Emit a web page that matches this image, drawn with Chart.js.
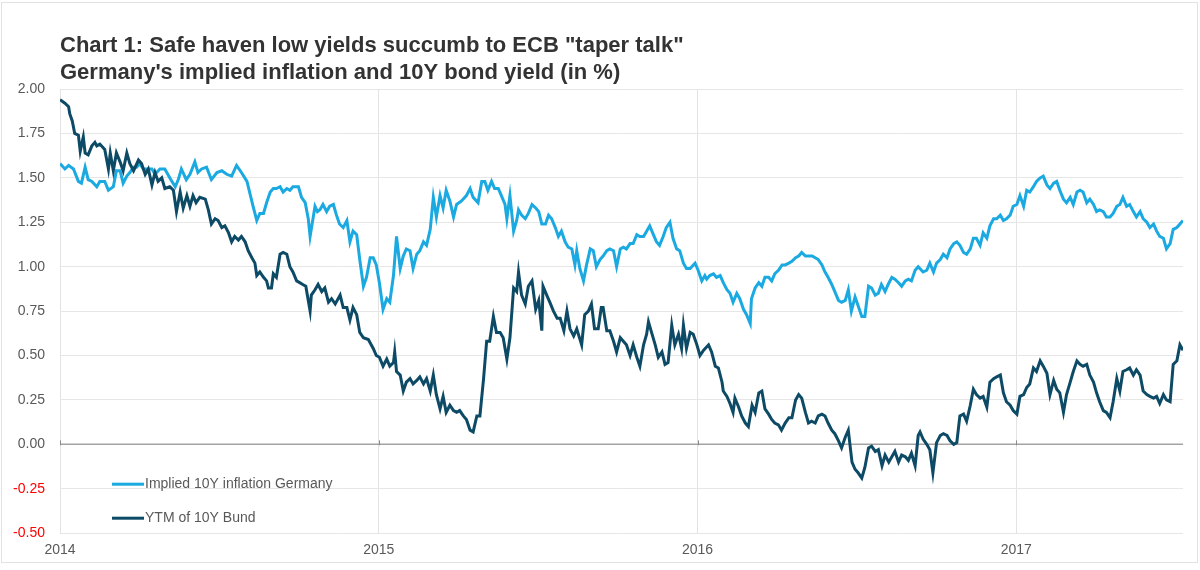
<!DOCTYPE html>
<html>
<head>
<meta charset="utf-8">
<script src="https://cdn.jsdelivr.net/npm/chart.js@4/dist/chart.umd.min.js"></script>
<style>
  html, body { margin: 0; padding: 0; background: #fff; }
  #frame { position: absolute; left: 1px; top: 2px; width: 1195px; height: 559px; border: 1px solid #e2e2e2; }
  #wrap { position: absolute; left: 0; top: 0; width: 1200px; height: 570px; }
</style>
</head>
<body>
<div id="frame"></div>
<div id="wrap"><canvas id="yieldChart"></canvas></div>
<script>
// Weeks since start of 2014, value in %
const inflation = [
  [0,1.58],[0.8,1.55],[1.4,1.57],[2.2,1.55],[3.0,1.48],[3.5,1.47],[4.1,1.56],[4.6,1.49],[5.2,1.48],[6.0,1.45],
  [6.5,1.48],[7.3,1.48],[7.9,1.43],[8.7,1.45],[9.2,1.54],[9.8,1.54],[10.3,1.47],[10.9,1.51],[11.4,1.53],[12.0,1.56],
  [12.5,1.56],[13.0,1.58],[13.6,1.55],[14.2,1.55],[15.0,1.55],[15.5,1.52],[16.3,1.55],[17.1,1.55],[17.9,1.50],[18.8,1.45],
  [19.3,1.49],[19.8,1.55],[20.6,1.49],[21.2,1.52],[22.0,1.59],[22.5,1.53],[23.1,1.55],[23.9,1.56],[24.7,1.49],[25.6,1.53],
  [26.4,1.54],[27.2,1.52],[28.0,1.51],[28.8,1.57],[29.6,1.53],[30.5,1.48],[31.0,1.41],[31.5,1.34],[32.1,1.26],[32.6,1.30],
  [33.2,1.30],[33.7,1.36],[34.3,1.42],[34.8,1.44],[35.3,1.44],[35.9,1.45],[36.4,1.42],[37.0,1.44],[37.5,1.43],[38.0,1.45],
  [38.9,1.45],[39.4,1.39],[40.0,1.36],[40.5,1.27],[40.8,1.17],[41.6,1.34],[42.0,1.31],[42.4,1.32],[42.9,1.35],[43.5,1.31],
  [44.0,1.34],[44.6,1.35],[45.1,1.29],[45.6,1.24],[46.2,1.22],[46.8,1.26],[47.3,1.14],[47.8,1.20],[48.4,1.18],[48.9,1.04],
  [49.5,0.89],[50.0,0.94],[50.6,1.05],[51.1,1.05],[51.6,1.01],[52.1,0.91],[52.7,0.76],[53.3,0.82],[53.8,0.80],[54.4,0.95],
  [54.9,1.17],[55.5,0.99],[56.0,1.06],[56.5,1.10],[57.1,1.09],[57.6,0.99],[58.2,1.07],[58.7,1.09],[59.3,1.14],[59.8,1.12],
  [60.4,1.21],[60.9,1.39],[61.4,1.28],[62.0,1.40],[62.5,1.33],[63.0,1.43],[63.6,1.37],[64.2,1.28],[64.7,1.35],[65.5,1.37],
  [66.3,1.40],[66.9,1.44],[67.4,1.39],[68.2,1.36],[68.8,1.48],[69.3,1.48],[69.8,1.43],[70.4,1.48],[70.9,1.44],[71.5,1.44],
  [72.0,1.40],[72.6,1.35],[72.9,1.27],[73.4,1.40],[74.0,1.20],[74.5,1.26],[74.8,1.32],[75.3,1.29],[75.9,1.27],[76.4,1.30],
  [77.0,1.35],[77.6,1.33],[78.1,1.31],[78.6,1.24],[79.2,1.24],[79.7,1.29],[80.2,1.27],[80.8,1.22],[81.3,1.17],[81.8,1.20],
  [82.4,1.14],[82.9,1.11],[83.5,1.10],[84.0,1.01],[84.3,1.09],[84.8,0.99],[85.4,0.92],[85.9,1.01],[86.5,1.10],[87.0,1.09],
  [87.5,1.00],[88.1,1.04],[88.6,1.06],[89.2,1.09],[89.7,1.10],[90.3,1.09],[90.8,1.00],[91.4,1.10],[91.9,1.11],[92.4,1.10],
  [93.0,1.13],[93.5,1.13],[94.1,1.18],[94.6,1.17],[95.2,1.17],[95.7,1.20],[96.2,1.23],[96.8,1.18],[97.3,1.14],[97.8,1.12],
  [98.4,1.17],[98.9,1.22],[99.5,1.25],[100.0,1.16],[100.6,1.10],[101.1,1.09],[101.7,1.02],[102.2,0.99],[102.8,0.99],[103.6,1.02],
  [104.1,0.98],[104.7,0.92],[105.2,0.95],[105.5,0.93],[106.0,0.95],[106.6,0.96],[107.1,0.94],[107.7,0.95],[108.2,0.91],[108.8,0.87],
  [109.3,0.85],[109.8,0.80],[110.4,0.85],[110.9,0.82],[111.5,0.76],[112.0,0.73],[112.6,0.68],[112.8,0.82],[113.4,0.88],[114.0,0.91],
  [114.5,0.89],[115.0,0.94],[115.6,0.94],[116.1,0.92],[116.6,0.96],[117.2,0.98],[117.8,1.01],[118.3,1.01],[118.9,1.02],[119.4,1.03],
  [120.0,1.05],[120.5,1.06],[121.0,1.08],[121.6,1.06],[122.1,1.06],[122.7,1.06],[123.2,1.05],[123.7,1.04],[124.3,1.01],[124.8,0.97],
  [125.3,0.94],[125.9,0.90],[126.4,0.86],[127.0,0.81],[127.5,0.80],[128.1,0.81],[128.6,0.87],[129.1,0.75],[129.7,0.83],[130.2,0.78],
  [130.8,0.72],[131.3,0.72],[131.9,0.89],[132.4,0.88],[133.0,0.84],[133.5,0.85],[134.0,0.90],[134.6,0.86],[135.1,0.90],[135.7,0.94],
  [136.2,0.93],[136.8,0.91],[137.3,0.89],[137.9,0.92],[138.4,0.93],[138.9,0.92],[139.5,0.98],[140.0,1.00],[140.8,0.97],[141.4,0.98],
  [141.9,1.02],[142.5,0.97],[143.0,1.02],[143.6,1.04],[144.1,1.07],[144.7,1.05],[145.2,1.10],[145.8,1.13],[146.3,1.14],[146.8,1.12],
  [147.4,1.08],[147.9,1.07],[148.5,1.10],[149.0,1.16],[149.5,1.16],[150.1,1.12],[150.6,1.19],[151.2,1.16],[151.7,1.23],[152.3,1.27],
  [152.8,1.27],[153.4,1.29],[153.9,1.26],[154.4,1.27],[155.0,1.29],[155.5,1.34],[156.1,1.35],[156.6,1.40],[157.2,1.34],[157.7,1.43],
  [158.2,1.42],[158.8,1.45],[159.3,1.48],[159.9,1.50],[160.4,1.51],[161.0,1.46],[161.5,1.44],[162.1,1.47],[162.6,1.48],[163.1,1.43],
  [163.7,1.38],[164.2,1.36],[164.8,1.39],[165.3,1.35],[165.9,1.42],[166.4,1.43],[166.9,1.42],[167.5,1.36],[168.0,1.38],[168.6,1.35],
  [169.1,1.31],[169.6,1.32],[170.2,1.31],[170.7,1.28],[171.3,1.28],[171.8,1.30],[172.4,1.34],[172.9,1.35],[173.4,1.39],[174.0,1.34],
  [174.5,1.35],[175.1,1.31],[175.6,1.28],[176.2,1.31],[176.7,1.27],[177.3,1.25],[177.8,1.22],[178.4,1.24],[178.9,1.20],[179.4,1.17],
  [180.0,1.16],[180.5,1.10],[181.1,1.13],[181.6,1.21],[182.2,1.22],[182.7,1.24],[183.2,1.26]
];

const bund = [
  [0,1.94],[0.8,1.92],[1.4,1.90],[1.6,1.86],[2.0,1.82],[2.4,1.75],[3.0,1.74],[3.3,1.65],[3.8,1.73],[4.1,1.64],
  [4.6,1.63],[5.2,1.68],[5.7,1.70],[6.0,1.68],[6.5,1.69],[7.3,1.66],[7.9,1.55],[8.2,1.64],[8.7,1.54],[9.2,1.64],
  [9.8,1.59],[10.3,1.54],[10.9,1.64],[11.4,1.58],[12.0,1.54],[12.8,1.60],[13.3,1.58],[13.9,1.52],[14.4,1.55],[15.0,1.46],
  [15.5,1.53],[16.0,1.48],[16.6,1.50],[17.1,1.44],[17.9,1.45],[18.5,1.43],[19.0,1.31],[19.6,1.42],[20.1,1.33],[20.7,1.40],
  [21.2,1.34],[21.7,1.40],[22.2,1.36],[22.8,1.39],[23.7,1.38],[24.2,1.32],[24.7,1.24],[25.3,1.27],[25.8,1.26],[26.4,1.22],
  [26.9,1.23],[27.5,1.19],[28.0,1.14],[28.5,1.17],[29.1,1.15],[29.6,1.17],[30.2,1.14],[30.7,1.09],[31.3,1.05],[31.8,1.02],
  [32.1,0.95],[32.6,0.97],[33.2,0.94],[33.7,0.92],[34.0,0.88],[34.5,0.88],[34.8,0.96],[35.3,0.94],[35.9,1.07],[36.4,1.08],
  [37.0,1.07],[37.5,1.00],[38.0,0.97],[38.6,0.92],[39.1,0.91],[39.6,0.90],[40.1,0.89],[40.8,0.75],[41.0,0.84],[41.6,0.87],
  [42.1,0.90],[42.7,0.86],[43.2,0.88],[43.8,0.80],[44.3,0.82],[44.9,0.79],[45.7,0.84],[46.2,0.77],[46.8,0.77],[47.3,0.70],
  [47.8,0.77],[48.4,0.73],[48.9,0.63],[49.5,0.60],[50.3,0.59],[51.1,0.54],[51.6,0.50],[52.1,0.49],[52.7,0.44],[53.3,0.48],
  [53.8,0.44],[54.4,0.46],[54.6,0.52],[54.9,0.41],[55.5,0.39],[56.0,0.30],[56.5,0.35],[57.1,0.37],[57.6,0.34],[58.2,0.36],
  [58.7,0.38],[59.3,0.34],[59.8,0.37],[60.4,0.30],[60.9,0.39],[61.4,0.28],[62.0,0.20],[62.5,0.27],[63.0,0.18],[63.6,0.22],
  [64.2,0.19],[64.7,0.18],[65.2,0.19],[65.8,0.16],[66.3,0.14],[66.9,0.08],[67.4,0.07],[68.0,0.16],[68.5,0.16],[69.1,0.37],
  [69.6,0.58],[70.1,0.58],[70.7,0.72],[71.2,0.63],[71.8,0.63],[72.3,0.60],[72.9,0.48],[73.4,0.60],[74.0,0.88],[74.5,0.86],
  [74.8,0.97],[75.3,0.84],[75.9,0.79],[76.4,0.89],[77.0,0.92],[77.6,0.76],[78.1,0.81],[78.6,0.64],[78.8,0.89],[79.4,0.84],
  [79.9,0.80],[80.5,0.75],[81.1,0.71],[81.6,0.71],[82.2,0.64],[82.7,0.75],[83.2,0.65],[83.8,0.61],[84.3,0.65],[85.1,0.56],
  [85.6,0.73],[86.2,0.75],[86.7,0.79],[87.2,0.65],[87.8,0.65],[88.3,0.77],[88.6,0.77],[89.2,0.64],[89.7,0.64],[90.3,0.58],
  [90.8,0.52],[91.4,0.60],[91.9,0.58],[92.4,0.56],[93.0,0.50],[93.5,0.56],[94.1,0.49],[94.6,0.44],[95.2,0.56],[95.7,0.62],
  [96.0,0.69],[96.5,0.63],[97.1,0.56],[97.6,0.49],[98.2,0.52],[98.7,0.45],[99.2,0.46],[99.8,0.67],[100.3,0.56],[100.9,0.62],
  [101.4,0.54],[101.7,0.67],[102.2,0.54],[102.8,0.63],[103.3,0.62],[103.9,0.56],[104.4,0.50],[105.0,0.53],[105.8,0.56],[106.3,0.52],
  [106.9,0.44],[107.4,0.43],[108.0,0.35],[108.2,0.30],[108.8,0.27],[109.3,0.23],[109.8,0.18],[110.1,0.26],[110.7,0.21],[111.2,0.16],
  [111.8,0.12],[112.3,0.10],[112.9,0.22],[113.4,0.18],[114.0,0.29],[114.5,0.30],[115.0,0.20],[115.6,0.17],[116.1,0.14],[116.6,0.12],
  [117.2,0.11],[117.7,0.08],[118.3,0.12],[118.9,0.15],[119.4,0.15],[120.0,0.25],[120.5,0.28],[121.0,0.26],[121.6,0.18],[122.1,0.12],
  [122.6,0.13],[123.2,0.12],[123.7,0.16],[124.3,0.17],[124.8,0.16],[125.3,0.12],[125.9,0.08],[126.4,0.06],[127.0,0.02],[127.5,-0.02],
  [128.1,0.04],[128.6,0.08],[129.2,-0.10],[129.7,-0.14],[130.2,-0.16],[130.8,-0.19],[131.3,-0.13],[131.9,-0.02],[132.4,-0.01],[133.0,-0.04],
  [133.5,-0.03],[134.1,-0.12],[134.6,-0.06],[135.2,-0.10],[135.7,-0.07],[136.2,-0.04],[136.8,-0.10],[137.3,-0.06],[137.9,-0.07],[138.4,-0.09],
  [138.9,-0.05],[139.5,-0.12],[140.0,0.05],[140.3,0.07],[140.8,0.03],[141.4,0.00],[141.9,-0.03],[142.4,-0.16],[143.0,0.01],[143.6,0.05],
  [144.1,0.06],[144.7,0.05],[145.2,0.02],[145.8,0.00],[146.3,0.01],[146.8,0.16],[147.4,0.17],[147.9,0.13],[148.5,0.22],[149.0,0.31],
  [149.5,0.28],[150.1,0.26],[150.6,0.27],[151.2,0.21],[151.7,0.35],[152.3,0.37],[152.8,0.38],[153.4,0.39],[153.9,0.29],[154.4,0.24],
  [155.0,0.22],[155.5,0.19],[156.1,0.17],[156.6,0.27],[157.2,0.28],[157.7,0.32],[158.2,0.34],[158.8,0.43],[159.3,0.41],[159.9,0.47],
  [160.4,0.44],[161.0,0.40],[161.5,0.28],[162.1,0.36],[162.6,0.31],[163.1,0.29],[163.7,0.18],[164.2,0.28],[164.8,0.35],[165.3,0.41],
  [165.9,0.47],[166.4,0.45],[166.9,0.44],[167.5,0.45],[168.0,0.39],[168.6,0.35],[169.1,0.29],[169.6,0.24],[170.2,0.19],[170.7,0.18],
  [171.3,0.15],[171.8,0.24],[172.4,0.37],[172.9,0.30],[173.4,0.41],[174.0,0.42],[174.5,0.43],[175.1,0.39],[175.6,0.42],[176.2,0.39],
  [176.7,0.30],[177.3,0.28],[177.8,0.27],[178.4,0.26],[178.9,0.27],[179.4,0.23],[180.0,0.28],[180.5,0.25],[181.1,0.24],[181.6,0.45],
  [182.2,0.47],[182.7,0.56],[183.2,0.53]
];

const yearLabels = ['2014', '2015', '2016', '2017'];
const yearWeeks = [0, 52, 104, 156];
const lastWeek = 183.2;

const seriesNames = ['Implied 10Y inflation Germany', 'YTM of 10Y Bund'];
const seriesColors = ['#1aa9e0', '#0d4a66'];

const labelFont = '"Liberation Sans", Arial, sans-serif';

const toPoints = rows => rows.map(([w, v]) => ({ x: w, y: v }));

// Legend sits inside the plot, bottom left
const insideLegend = {
    id: 'insideLegend',
    afterDatasetsDraw(chart) {
        const { ctx, chartArea } = chart;
        const rows = [chartArea.bottom - 49, chartArea.bottom - 15];
        ctx.save();
        ctx.font = '14px ' + labelFont;
        ctx.textBaseline = 'middle';
        seriesNames.forEach((name, i) => {
            const y = rows[i];
            ctx.strokeStyle = seriesColors[i];
            ctx.lineWidth = 3;
            ctx.beginPath();
            ctx.moveTo(chartArea.left + 52, y);
            ctx.lineTo(chartArea.left + 84, y);
            ctx.stroke();
            ctx.fillStyle = '#595959';
            ctx.fillText(name, chartArea.left + 85, y);
        });
        ctx.restore();
    }
};

// Zero axis line with little year ticks
const zeroAxis = {
    id: 'zeroAxis',
    beforeDatasetsDraw(chart) {
        const { ctx, chartArea, scales } = chart;
        const y0 = scales.y.getPixelForValue(0);
        ctx.save();
        ctx.strokeStyle = '#a3a3a3';
        ctx.lineWidth = 1.5;
        ctx.beginPath();
        ctx.moveTo(chartArea.left, y0);
        ctx.lineTo(chartArea.right, y0);
        ctx.stroke();
        ctx.lineWidth = 1;
        ctx.strokeStyle = '#8c8c8c';
        yearWeeks.forEach(w => {
            const x = Math.round(scales.x.getPixelForValue(w)) + 0.5;
            ctx.beginPath();
            ctx.moveTo(x, y0 - 4);
            ctx.lineTo(x, y0 + 1);
            ctx.stroke();
        });
        ctx.restore();
    }
};

const ctx = document.getElementById('yieldChart').getContext('2d');
new Chart(ctx, {
    type: 'line',
    data: {
        datasets: [
            {
                label: seriesNames[1],
                data: toPoints(bund),
                borderColor: seriesColors[1],
                borderWidth: 3,
                pointRadius: 0,
                tension: 0,
                order: 0
            },
            {
                label: seriesNames[0],
                data: toPoints(inflation),
                borderColor: seriesColors[0],
                borderWidth: 3,
                pointRadius: 0,
                tension: 0,
                order: 1
            }
        ]
    },
    options: {
        responsive: true,
        maintainAspectRatio: false,
        animation: false,
        layout: { padding: { left: 0, right: 17, top: 0, bottom: 2 } },
        plugins: {
            legend: { display: false },
            tooltip: { enabled: false },
            title: {
                display: true,
                fullSize: false,
                align: 'start',
                text: ['Chart 1: Safe haven low yields succumb to ECB "taper talk"',
                       "Germany's implied inflation and 10Y bond yield (in %)"],
                color: '#333333',
                font: { family: labelFont, size: 22, weight: 'bold', lineHeight: '27px' },
                padding: { top: 32, bottom: 3 }
            }
        },
        scales: {
            x: {
                type: 'linear',
                min: 0,
                max: lastWeek,
                border: { display: false },
                grid: { color: '#e3e3e3', lineWidth: 1, drawTicks: false },
                afterBuildTicks: scale => { scale.ticks = yearWeeks.map(v => ({ value: v })); },
                ticks: {
                    padding: 9,
                    color: '#595959',
                    font: { family: labelFont, size: 14 },
                    callback: (value) => yearLabels[yearWeeks.indexOf(value)] || ''
                }
            },
            y: {
                min: -0.5,
                max: 2.0,
                border: { display: false },
                afterFit: scale => { scale.width = 60; },
                grid: { color: '#e6e6e6', lineWidth: 1, drawTicks: false },
                ticks: {
                    stepSize: 0.25,
                    padding: 15,
                    color: c => c.tick.value < 0 ? '#ff0000' : '#595959',
                    font: { family: labelFont, size: 14 },
                    callback: v => v.toFixed(2)
                }
            }
        }
    },
    plugins: [zeroAxis, insideLegend]
});
</script>
</body>
</html>
